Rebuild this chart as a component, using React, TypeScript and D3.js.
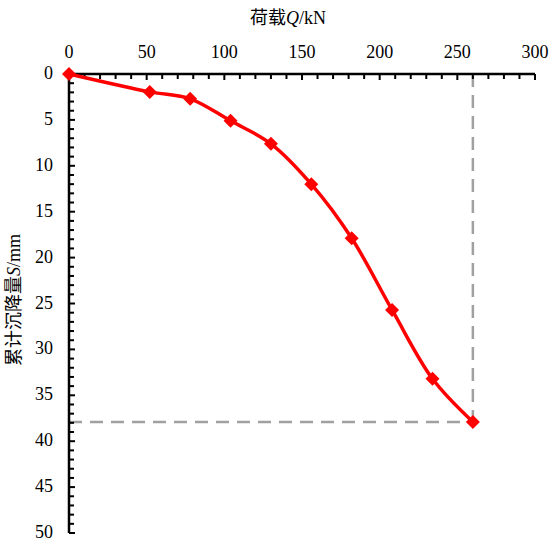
import React, { useEffect, useRef } from 'react';
import * as d3 from 'd3';

// 荷载 Q (kN) 与 累计沉降量 S (mm)
const loads = [0, 52, 78, 104, 130, 156, 182, 208, 234, 260];
const settlements = [0, 1.95, 2.7, 5.1, 7.6, 12.0, 17.9, 25.7, 33.2, 37.9];
const xTicks = [0, 50, 100, 150, 200, 250, 300];
const yTicks = [0, 5, 10, 15, 20, 25, 30, 35, 40, 45, 50];

const App = () => {
  const chartRef = useRef<SVGSVGElement>(null);

  useEffect(() => {
    const svg = d3.select(chartRef.current);
    svg.selectAll('*').remove();

    const font = "'Liberation Serif', 'DejaVu Serif', 'Noto Sans CJK SC', serif";
    const x = d3.scaleLinear().domain([0, 300]).range([69, 535]);
    const y = d3.scaleLinear().domain([0, 50]).range([74, 533]);

    const data = loads.map((q, i) => ({ q, s: settlements[i] }));
    const last = data[data.length - 1];

    // 辅助虚线
    svg.append('line')
      .attr('x1', x(last.q)).attr('x2', x(last.q))
      .attr('y1', y(0)).attr('y2', y(last.s))
      .attr('stroke', '#a0a0a0').attr('stroke-width', 2.5)
      .attr('stroke-dasharray', '13,8');
    svg.append('line')
      .attr('x1', x(0)).attr('x2', x(last.q))
      .attr('y1', y(last.s)).attr('y2', y(last.s))
      .attr('stroke', '#a0a0a0').attr('stroke-width', 2.5)
      .attr('stroke-dasharray', '13,8');

    // 顶部 x 轴
    const gx = svg.append('g');
    gx.append('line')
      .attr('x1', x(0)).attr('x2', x(300))
      .attr('y1', y(0)).attr('y2', y(0))
      .attr('stroke', '#000').attr('stroke-width', 2.5);
    gx.selectAll('line.minor')
      .data(d3.range(0, 301, 10))
      .enter().append('line')
      .attr('x1', d => x(d)).attr('x2', d => x(d))
      .attr('y1', y(0)).attr('y2', d => (d % 50 === 0 ? y(0) + 6 : y(0) + 5))
      .attr('stroke', '#000').attr('stroke-width', 2);
    gx.selectAll('text')
      .data(xTicks)
      .enter().append('text')
      .attr('x', d => x(d)).attr('y', 58)
      .attr('text-anchor', 'middle')
      .style('font-family', font).style('font-size', '18px')
      .text(d => d);

    // 左侧 y 轴
    const gy = svg.append('g');
    gy.append('line')
      .attr('x1', x(0)).attr('x2', x(0))
      .attr('y1', y(0)).attr('y2', y(50))
      .attr('stroke', '#000').attr('stroke-width', 2.5);
    gy.selectAll('line.minor')
      .data(d3.range(0, 51, 1))
      .enter().append('line')
      .attr('x1', x(0)).attr('x2', d => (d % 5 === 0 ? x(0) + 6 : x(0) + 5))
      .attr('y1', d => y(d)).attr('y2', d => y(d))
      .attr('stroke', '#000').attr('stroke-width', 2);
    gy.selectAll('text')
      .data(yTicks)
      .enter().append('text')
      .attr('x', 53).attr('y', d => y(d) + 5)
      .attr('text-anchor', 'end')
      .style('font-family', font).style('font-size', '18px')
      .text(d => d);

    // 轴标题
    const tx = svg.append('text')
      .attr('x', 288).attr('y', 24)
      .attr('text-anchor', 'middle')
      .style('font-family', font).style('font-size', '18px');
    tx.append('tspan').text('荷载');
    tx.append('tspan').attr('font-style', 'italic').text('Q');
    tx.append('tspan').text('/kN');

    const ty = svg.append('text')
      .attr('transform', 'translate(20,300) rotate(-90)')
      .attr('text-anchor', 'middle')
      .style('font-family', font).style('font-size', '18px');
    ty.append('tspan').text('累计沉降量');
    ty.append('tspan').attr('font-style', 'italic').text('S');
    ty.append('tspan').text('/mm');

    // 曲线
    const line = d3.line<{ q: number; s: number }>()
      .x(d => x(d.q))
      .y(d => y(d.s))
      .curve(d3.curveCatmullRom.alpha(0.5));
    svg.append('path')
      .datum(data)
      .attr('d', line)
      .attr('fill', 'none')
      .attr('stroke', '#ff0000')
      .attr('stroke-width', 3.5);

    svg.selectAll('path.marker')
      .data(data)
      .enter().append('path')
      .attr('class', 'marker')
      .attr('transform', d => `translate(${x(d.q)},${y(d.s)})`)
      .attr('d', 'M0,-7L7,0L0,7L-7,0Z')
      .attr('fill', '#ff0000');
  }, []);

  return (
    <svg
      ref={chartRef}
      width={552}
      height={539}
      style={{ position: 'absolute', left: 0, top: 0, background: '#fff' }}
    />
  );
};

export default App;
